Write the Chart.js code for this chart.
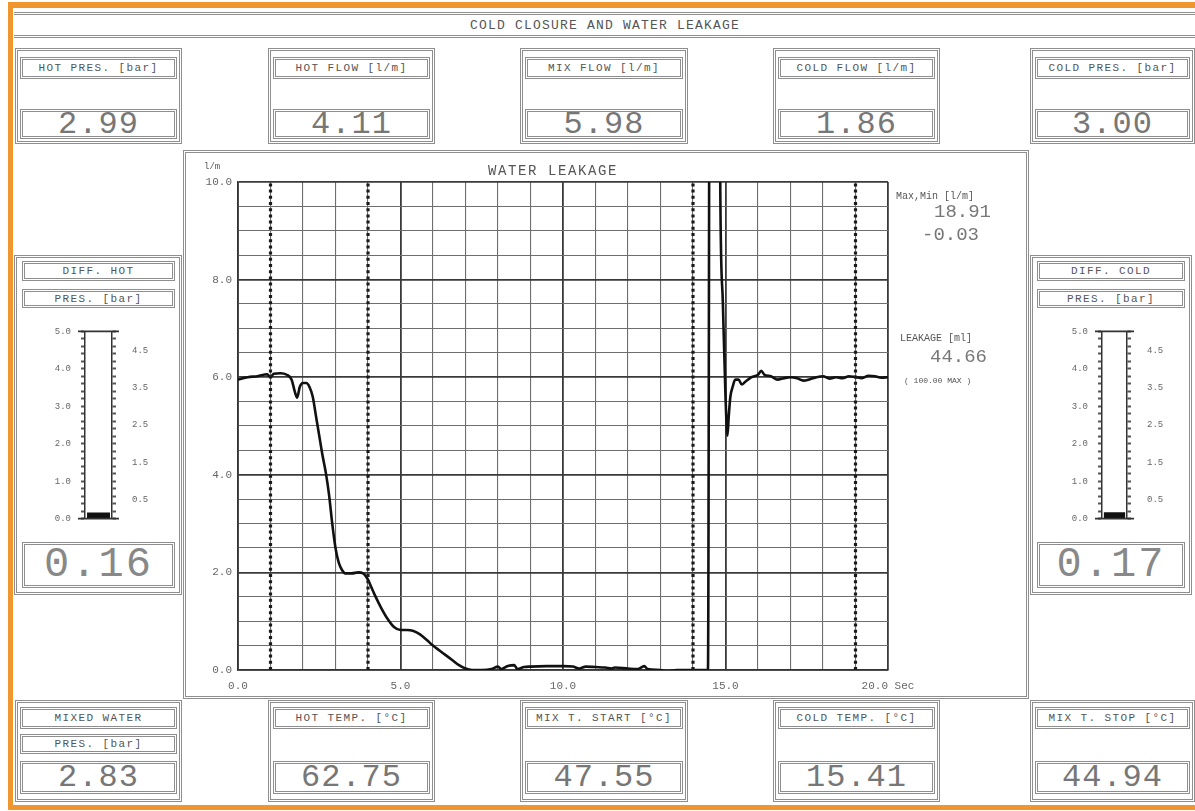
<!DOCTYPE html>
<html>
<head>
<meta charset="utf-8">
<script src="https://cdn.jsdelivr.net/npm/chart.js@4/dist/chart.umd.min.js"></script>
<style>
  html,body{margin:0;padding:0;}
  body{width:1195px;height:811px;overflow:hidden;background:#fff;position:relative;
       font-family:"Liberation Mono","DejaVu Sans Mono",monospace;color:#666;}
  .abs{position:absolute;box-sizing:border-box;}
  .box{border:3px double #8e8e8e;}
  .lbl{font-size:11px;letter-spacing:1.4px;display:flex;align-items:center;justify-content:center;white-space:nowrap;color:#555;}
  .val{font-size:32px;display:flex;align-items:center;justify-content:center;color:#777;letter-spacing:1px;}
  .gval{font-size:42px;display:flex;align-items:center;justify-content:center;color:#888;letter-spacing:2px;}
  .txt{white-space:nowrap;color:#555;}
</style>
</head>
<body>
<div class="abs" style="left:8px;top:2px;width:1200px;height:808px;border-left:5px solid #F0962E;border-top:6px solid #F0962E;border-bottom:5px solid #F0962E;"></div>
<div class="abs" style="left:14px;top:12px;width:1190px;height:3px;border-top:3px double #8e8e8e;"></div>
<div class="abs" style="left:14px;top:35px;width:1190px;height:3px;border-top:3px double #8e8e8e;"></div>
<div id="title" class="abs txt" style="left:0;top:18px;width:1210px;text-align:center;font-size:13px;letter-spacing:1.2px;"></div>

<div id="boxes"></div>

<!-- main chart panel -->
<div class="abs box" style="left:183px;top:150px;width:846px;height:549px;"></div>
<canvas id="main" class="abs" width="845" height="548" style="left:183px;top:150px;width:845px;height:548px;"></canvas>
<div class="abs txt" style="left:204px;top:162px;font-size:9px;">l/m</div>
<div id="chartTitle" class="abs txt" style="left:488px;top:163px;font-size:14px;letter-spacing:1.6px;"></div>
<div class="abs txt" style="left:896px;top:191px;font-size:10px;">Max,Min [l/m]</div>
<div id="maxv" class="abs txt" style="left:934px;top:201px;font-size:19px;color:#777;"></div>
<div id="minv" class="abs txt" style="left:922px;top:224px;font-size:19px;color:#777;"></div>
<div class="abs txt" style="left:900px;top:333px;font-size:10px;">LEAKAGE [ml]</div>
<div id="leakv" class="abs txt" style="left:930px;top:346px;font-size:19px;color:#777;"></div>
<div id="leakmax" class="abs txt" style="left:904px;top:376px;font-size:8px;"></div>

<!-- gauges -->
<div class="abs box" style="left:14px;top:255px;width:168px;height:340px;"></div>
<div class="abs box" style="left:1030px;top:255px;width:162px;height:340px;"></div>
<canvas id="g1" class="abs" width="145" height="230" style="left:30px;top:310px;width:145px;height:230px;"></canvas>
<canvas id="g2" class="abs" width="143" height="230" style="left:1047px;top:310px;width:143px;height:230px;"></canvas>

<script>
// ---------------- DATA ----------------
const chartTitleText = "COLD CLOSURE AND WATER LEAKAGE";
const plotTitle = "WATER LEAKAGE";

const topLabels = ["HOT PRES. [bar]", "HOT FLOW [l/m]", "MIX FLOW [l/m]", "COLD FLOW [l/m]", "COLD PRES. [bar]"];
const topValues = ["2.99", "4.11", "5.98", "1.86", "3.00"];

const bottomLabels = ["MIXED WATER", "HOT TEMP. [°C]", "MIX T. START [°C]", "COLD TEMP. [°C]", "MIX T. STOP [°C]"];
const bottomValues = ["2.83", "62.75", "47.55", "15.41", "44.94"];

const gaugeLabels = [["DIFF. HOT", "PRES. [bar]"], ["DIFF. COLD", "PRES. [bar]"]];
const gaugeValues = [0.16, 0.17];

const maxMin = ["18.91", "-0.03"];
const leakage = "44.66";
const leakageMax = "( 100.00 MAX )";

// time [s]
const timeSec = [0.0,0.3,0.6,0.9,1.0,1.1,1.3,1.5,1.65,1.75,1.82,1.9,2.0,2.1,2.2,2.3,2.4,2.5,2.6,2.7,2.8,2.9,3.0,3.1,3.2,3.3,3.5,3.7,3.85,4.0,4.1,4.2,4.4,4.6,4.8,5.0,5.2,5.4,5.6,5.8,6.0,6.2,6.4,6.6,6.8,7.0,7.2,7.5,7.8,8.0,8.1,8.3,8.5,8.6,8.8,9.0,9.5,10.0,10.3,10.5,10.7,11.0,11.3,11.5,11.6,12.0,12.3,12.5,12.6,13.0,13.2,13.5,14.0,14.46,14.53,14.78,14.84,14.92,15.0,15.06,15.1,15.15,15.22,15.3,15.4,15.5,15.6,15.8,16.0,16.1,16.2,16.4,16.6,16.8,17.0,17.2,17.4,17.6,17.8,18.0,18.2,18.4,18.6,18.8,19.0,19.2,19.4,19.6,19.8,20.0];
// flow [l/m]
const flowLm = [5.95,6.0,6.02,6.06,6.0,6.07,6.08,6.05,5.95,5.7,5.58,5.8,5.88,5.88,5.8,5.6,5.2,4.8,4.4,4.05,3.6,3.0,2.5,2.2,2.05,1.98,1.98,2.0,1.98,1.85,1.7,1.55,1.28,1.05,0.88,0.82,0.82,0.8,0.73,0.62,0.5,0.4,0.3,0.2,0.1,0.03,0.0,0.0,0.02,0.07,0.02,0.08,0.1,0.02,0.06,0.07,0.08,0.08,0.07,0.03,0.07,0.06,0.05,0.03,0.05,0.03,0.02,0.08,0.02,0.0,-0.03,0.0,0.0,0.0,18.91,18.5,9.8,7.5,5.6,4.8,5.2,5.6,5.8,5.95,5.95,5.85,5.9,6.0,6.05,6.13,6.05,6.02,5.95,5.98,6.0,5.98,5.93,5.96,6.0,6.02,5.97,6.0,5.98,6.02,6.0,5.98,6.03,6.02,5.99,6.0];

// dotted marker lines [s]
const markerTimes = [1.0, 4.0, 14.0, 19.0];

// axis ticks
const xMin = 0, xMax = 20, xStep = 1, xLabelEvery = 5;
const yMin = 0, yMax = 10, yStep = 0.5, yLabelEvery = 2;

// ---------------- LAYOUT ----------------
const FONT = "'Liberation Mono','DejaVu Sans Mono',monospace";
document.getElementById('title').textContent = chartTitleText;
document.getElementById('chartTitle').textContent = plotTitle;
document.getElementById('maxv').textContent = maxMin[0];
document.getElementById('minv').textContent = maxMin[1];
document.getElementById('leakv').textContent = leakage;
document.getElementById('leakmax').textContent = leakageMax;

const colX = [15, 268, 520, 773, 1030];
const colW = [167, 167, 168, 167, 165];
const host = document.getElementById('boxes');
function add(cls, l, t, w, h, text) {
  const d = document.createElement('div');
  d.className = 'abs ' + cls;
  d.style.left = l + 'px'; d.style.top = t + 'px';
  d.style.width = w + 'px'; d.style.height = h + 'px';
  if (text !== undefined) d.textContent = text;
  host.appendChild(d);
  return d;
}
// top boxes
for (let i = 0; i < 5; i++) {
  const x = colX[i], w = colW[i];
  add('box', x, 48, w, 96);
  add('box lbl', x + 5, 57, w - 10, 22, topLabels[i]);
  add('box val', x + 5, 109, w - 10, 30, topValues[i]);
}
// bottom boxes
for (let i = 0; i < 5; i++) {
  const x = colX[i], w = colW[i];
  add('box', x, 700, w, 102);
  add('box lbl', x + 5, 707, w - 10, 22, bottomLabels[i]);
  if (i === 0) add('box lbl', x + 5, 734, w - 10, 20, "PRES. [bar]");
  add('box val', x + 5, 761, w - 10, 33, bottomValues[i]);
}
// gauge boxes
const gX = [22, 1037], gW = [153, 148];
for (let i = 0; i < 2; i++) {
  add('box lbl', gX[i], 261, gW[i], 20, gaugeLabels[i][0]);
  add('box lbl', gX[i], 289, gW[i], 19, gaugeLabels[i][1]);
  add('box gval', gX[i], 542, gW[i], 46, gaugeValues[i].toFixed(2));
}

// ---------------- MAIN CHART ----------------
const flowPts = timeSec.map((t, i) => ({x: t, y: flowLm[i]}));
const markerSets = markerTimes.map(t => ({
  data: [{x: t, y: yMin}, {x: t, y: yMax}],
  borderColor: '#1a1a1a', borderWidth: 3.2, borderDash: [3, 3.2],
  pointRadius: 0, fill: false, tension: 0
}));
const isMult = (v, m) => Math.abs(v / m - Math.round(v / m)) < 1e-6;

new Chart(document.getElementById('main'), {
  type: 'line',
  data: {
    datasets: [
      ...markerSets,
      {data: flowPts, borderColor: '#111', borderWidth: 2.6, pointRadius: 0,
       fill: false, cubicInterpolationMode: 'monotone'}
    ]
  },
  options: {
    responsive: false, animation: false,
    layout: {padding: {left: 0, top: 32, right: 140, bottom: 0}},
    plugins: {legend: {display: false}, tooltip: {enabled: false}, title: {display: false}},
    scales: {
      x: {
        type: 'linear', min: xMin, max: xMax,
        afterFit: s => { s.height = 28; },
        ticks: {
          stepSize: xStep, autoSkip: false, maxRotation: 0, padding: 9,
          color: '#666', font: {family: FONT, size: 11},
          callback: v => isMult(v, xLabelEvery) ? (v === xMax ? v.toFixed(1) + ' Sec' : v.toFixed(1)) : ''
        },
        grid: {
          drawTicks: false,
          color: c => isMult(c.tick.value, xLabelEvery) ? '#3a3a3a' : '#6e6e6e',
          lineWidth: c => isMult(c.tick.value, xLabelEvery) ? 1.8 : 1.1
        },
        border: {display: true, color: '#333', width: 1.5}
      },
      y: {
        min: yMin, max: yMax,
        afterFit: s => { s.width = 55; },
        ticks: {
          stepSize: yStep, autoSkip: false, padding: 6,
          color: '#666', font: {family: FONT, size: 11},
          callback: v => isMult(v, yLabelEvery) ? v.toFixed(1) : ''
        },
        grid: {
          drawTicks: false,
          color: c => isMult(c.tick.value, yLabelEvery) ? '#3a3a3a' : '#6e6e6e',
          lineWidth: c => isMult(c.tick.value, yLabelEvery) ? 1.8 : 1.1
        },
        border: {display: true, color: '#333', width: 1.5}
      }
    }
  }
});

// ---------------- GAUGES ----------------
const tubeFrame = {
  id: 'tubeFrame',
  afterDraw(chart) {
    const {ctx, chartArea: a} = chart;
    ctx.save();
    ctx.strokeStyle = '#333'; ctx.lineWidth = 1.6;
    ctx.beginPath();
    ctx.moveTo(a.left - 7, a.top); ctx.lineTo(a.right + 7, a.top);
    ctx.moveTo(a.left - 7, a.bottom); ctx.lineTo(a.right + 7, a.bottom);
    ctx.stroke();
    ctx.restore();
  }
};
function gauge(id, value) {
  new Chart(document.getElementById(id), {
    type: 'bar',
    data: {labels: [''], datasets: [{data: [value], backgroundColor: '#111', barPercentage: 0.85, categoryPercentage: 1}]},
    options: {
      responsive: false, animation: false,
      layout: {padding: {top: 11, bottom: 13}},
      plugins: {legend: {display: false}, tooltip: {enabled: false}},
      scales: {
        x: {display: false},
        y: {
          position: 'left', min: 0, max: 5,
          afterFit: s => { s.width = 55; },
          ticks: {stepSize: 0.2, autoSkip: false, padding: 10, color: '#666', font: {family: FONT, size: 9},
                  callback: v => isMult(v, 1) ? v.toFixed(1) : ''},
          grid: {drawOnChartArea: false, tickLength: 4, tickWidth: 2, tickColor: '#555'},
          border: {display: true, color: '#333', width: 1.5}
        },
        y2: {
          position: 'right', min: 0, max: 5,
          afterFit: s => { s.width = 63; },
          ticks: {stepSize: 0.1, autoSkip: false, padding: 16, color: '#666', font: {family: FONT, size: 9},
                  callback: v => (isMult(v, 0.5) && !isMult(v, 1)) ? v.toFixed(1) : ''},
          grid: {drawOnChartArea: false, tickLength: 4, tickWidth: 2,
                 tickColor: c => isMult(c.tick.value, 0.2) ? '#555' : 'rgba(0,0,0,0)'},
          border: {display: true, color: '#333', width: 1.5}
        }
      }
    },
    plugins: [tubeFrame]
  });
}
gauge('g1', gaugeValues[0]);
gauge('g2', gaugeValues[1]);
</script>
</body>
</html>
